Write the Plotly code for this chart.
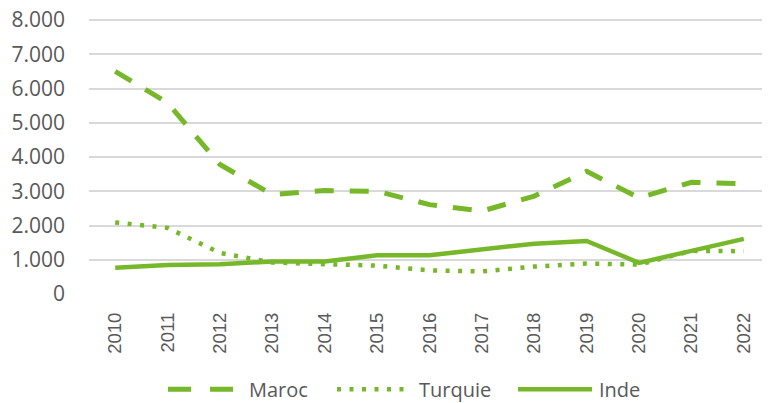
import plotly.graph_objects as go

years = [str(y) for y in range(2010, 2023)]
series_names = ["Maroc", "Turquie", "Inde"]
maroc = [6500, 5580, 3780, 2900, 3020, 3000, 2610, 2420, 2860, 3580, 2810, 3260, 3220]
turquie = [2090, 1930, 1200, 920, 870, 830, 690, 660, 800, 890, 860, 1260, 1250]
inde = [770, 850, 870, 950, 950, 1130, 1130, 1300, 1470, 1550, 910, 1260, 1610]

y_tick_vals = [0, 1000, 2000, 3000, 4000, 5000, 6000, 7000, 8000]
y_tick_text = ["0", "1.000", "2.000", "3.000", "4.000", "5.000", "6.000", "7.000", "8.000"]

green = "#76B82A"
text_color = "#595959"
font_family = "Open Sans"

# page body has an 8px default margin: figure coords = screen coords - 8
OFF = 8
W, H = 770 - OFF, 403 - OFF
L, R = 89 - OFF, 0
y_bottom = 294.5 - OFF      # figure y of value 0
y_top_val = 20 - OFF        # figure y of value 8000
T = y_top_val - 2           # leave 2px so the top gridline is not clipped
B = H - y_bottom
pw, ph = W - L - R, H - T - B
y_max = y_tick_vals[-1] * (y_bottom - T) / (y_bottom - y_top_val)

dashes = ["19px,16px", "4px,8.5px", "solid"]
widths = [5, 4.5, 4.5]
legend_dashes = ["23px,19px", "4px,8.5px", "solid"]

fig = go.Figure()
for name, vals, d, w in zip(series_names, [maroc, turquie, inde], dashes, widths):
    fig.add_trace(go.Scatter(x=years, y=vals, name=name, mode="lines",
                             line=dict(color=green, width=w, dash=d)))

# manual legend (Excel-like long symbols), given in screen pixels
def px_x(px):
    return (px - OFF - L) / pw

def px_y(py):
    return (H - B - (py - OFF)) / ph

legend_sym = [(168, 233), (337, 404), (518, 592)]
legend_txt = [247, 417, 597]
ly = 390
for name, (x0, x1), tx, d, w in zip(series_names, legend_sym, legend_txt, legend_dashes, widths):
    fig.add_shape(type="line", xref="paper", yref="paper",
                  x0=px_x(x0), x1=px_x(x1), y0=px_y(ly), y1=px_y(ly),
                  line=dict(color=green, width=w, dash=d))
    fig.add_annotation(xref="paper", yref="paper", x=px_x(tx), y=px_y(ly),
                       xanchor="left", yanchor="middle", text=name, showarrow=False,
                       font=dict(size=20, color=text_color, family=font_family))

fig.update_layout(
    width=W, height=H,
    margin=dict(l=L, r=R, t=T, b=B, autoexpand=False),
    paper_bgcolor="white", plot_bgcolor="white",
    font=dict(family=font_family, color=text_color, size=20),
    showlegend=False,
)
fig.update_xaxes(type="category", range=[-0.5, 12.5], showgrid=False, showline=False,
                 zeroline=False, ticks="", tickangle=-90, automargin=False,
                 tickfont=dict(size=18.5, family="Liberation Sans", color=text_color),
                 ticklabelstandoff=14, ticklabeloverflow="allow")
fig.update_yaxes(range=[0, y_max], tickvals=y_tick_vals, ticktext=y_tick_text,
                 showgrid=True, gridcolor="#D9D9D9", gridwidth=1.5, automargin=False,
                 zeroline=False, showline=False, ticks="",
                 ticklabelstandoff=23, ticklabeloverflow="allow",
                 tickfont=dict(size=21, color=text_color))

fig.write_html("out.html")
